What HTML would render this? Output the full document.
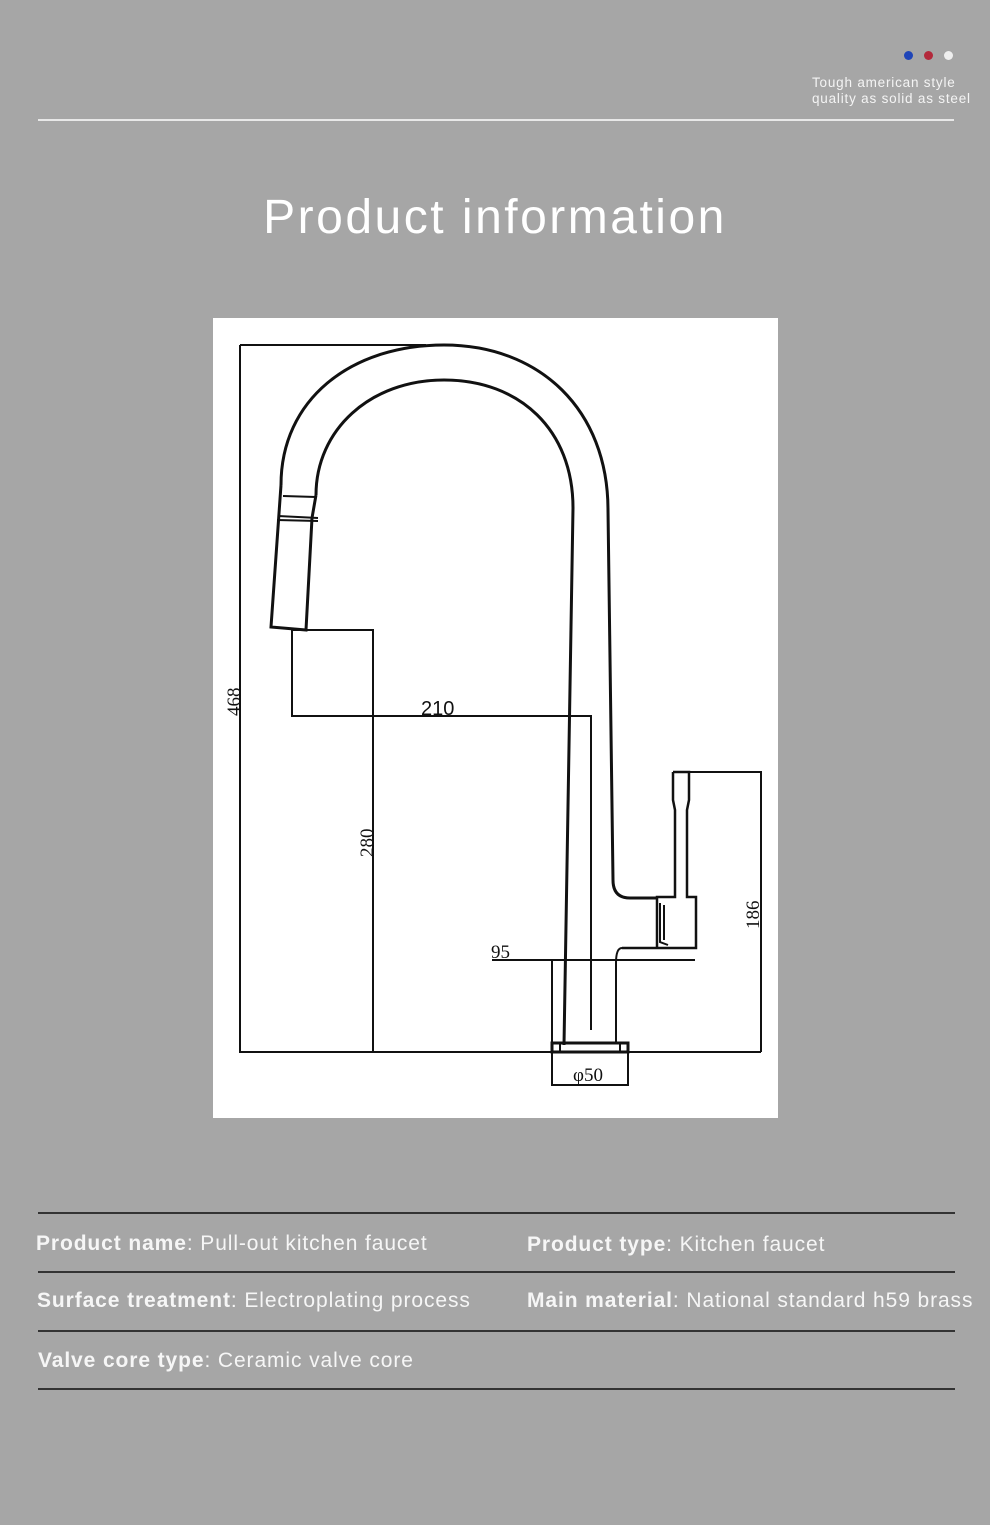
<!DOCTYPE html>
<html><head><meta charset="utf-8"><style>
body{margin:0;width:990px;height:1525px;background:#a6a6a6;position:relative;overflow:hidden;font-family:"Liberation Sans",sans-serif;color:#fff}
.a{position:absolute}
.dot{position:absolute;width:9px;height:9px;border-radius:50%;top:51px}
.tag{position:absolute;left:812px;top:75px;font-size:13.5px;line-height:16px;color:#f4f4f4;letter-spacing:0.8px;white-space:nowrap}
.hr{position:absolute;left:38px;width:917px;height:2px;background:#333}
.row{position:absolute;font-size:21px;letter-spacing:0.9px;color:#f6f6f6;white-space:nowrap}
.row b{font-weight:bold}
</style></head><body>
<div class="dot" style="left:904px;background:#1f45b8"></div>
<div class="dot" style="left:924px;background:#b3293b"></div>
<div class="dot" style="left:944px;background:#eee"></div>
<div class="tag">Tough american style<br>quality as solid as steel</div>
<div class="a" style="left:38px;top:119px;width:916px;height:2px;background:#e8e8e8"></div>
<div class="a" style="left:0;width:990px;top:190px;text-align:center;font-size:48px;letter-spacing:2.5px;color:#fff">Product information</div>
<svg class="a" style="left:0;top:0" width="990" height="1525" viewBox="0 0 990 1525">
<rect x="213" y="318" width="565" height="800" fill="#fff"/>
<g fill="none" stroke="#111" stroke-width="2">
<path d="M281 485 C281 400 350 345 444 345 C540 345 608 410 608 510 L613 880 Q613 898 630 898 L657 898" stroke-width="3"/>
<path d="M316 495 C316 430 370 380 444 380 C520 380 573 430 573 508 L564 1045" stroke-width="3"/>
<path d="M281 485 L271 627 L306 630 L312 518 L316 495" stroke-width="3"/>
<path d="M283 496 L316 497 M278 516 L318 518 M277 520 L318 521"/>
<path d="M240 345 L426 345 M240 345 L240 1052 L761 1052"/>
<path d="M292 630 L373 630 L373 1052 M292 630 L292 716 L591 716 L591 1030"/>
<path d="M492 960 L695 960"/>
<path d="M552 960 L552 1085 L628 1085 L628 1052"/>
<path d="M689 772 L761 772 L761 1052"/>
<path d="M622 948 Q616 948 616 963 L616 1043"/>
<rect x="552" y="1043" width="76" height="9" stroke-width="3"/>
<path d="M560 1043 L560 1052 M620 1043 L620 1052"/>
<path d="M673 772 L689 772 L689 800 L687 810 L687 897 L696 897 L696 948 L622 948 M673 772 L673 800 L675 810 L675 897 L657 897 L657 948" stroke-width="2.5"/>
<path d="M660 903 L660 942 L668 945 M664 905 L664 940"/>
</g>
<g fill="#111" font-family="Liberation Serif,serif" font-size="19">
<text x="421" y="715" font-family="Liberation Sans,sans-serif" font-size="20">210</text>
<text x="491" y="958">95</text>
<text x="573" y="1081">φ50</text>
<text transform="translate(240 716) rotate(-90)">468</text>
<text transform="translate(373 857) rotate(-90)">280</text>
<text transform="translate(759 929) rotate(-90)">186</text>
</g>
</svg>
<div class="hr" style="top:1212px"></div>
<div class="hr" style="top:1271px"></div>
<div class="hr" style="top:1330px"></div>
<div class="hr" style="top:1388px"></div>
<div class="row" style="left:36px;top:1232px"><b>Product name</b>: Pull-out kitchen faucet</div>
<div class="row" style="left:527px;top:1233px"><b>Product type</b>: Kitchen faucet</div>
<div class="row" style="left:37px;top:1289px"><b>Surface treatment</b>: Electroplating process</div>
<div class="row" style="left:527px;top:1289px"><b>Main material</b>: National standard h59 brass</div>
<div class="row" style="left:38px;top:1349px"><b>Valve core type</b>: Ceramic valve core</div>
</body></html>
